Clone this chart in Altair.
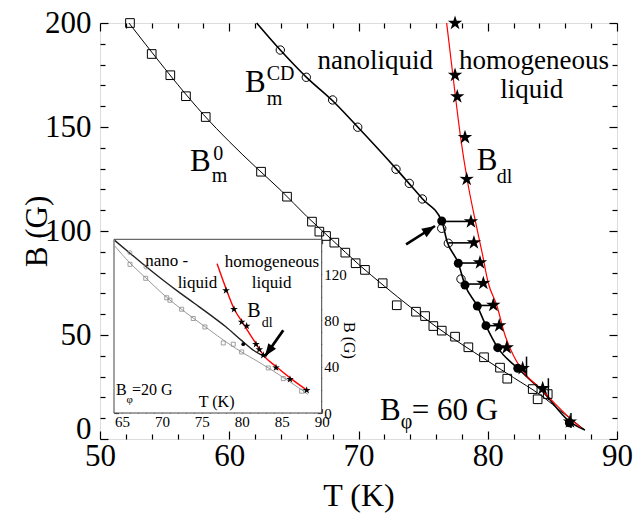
import altair as alt
import pandas as pd

FONT = "Liberation Serif, Times New Roman, Times, serif"
W, H = 517, 416

# ---------------- main panel (B_phi = 60 G) ----------------
T_RANGE = [50, 90]
B_RANGE = [0, 200]
X_MAJOR = [50, 60, 70, 80, 90]
X_MINOR = [52, 54, 56, 58, 62, 64, 66, 68, 72, 74, 76, 78, 82, 84, 86, 88]
Y_MAJOR = [0, 50, 100, 150, 200]
Y_MINOR = [10, 20, 30, 40, 60, 70, 80, 90, 110, 120, 130, 140, 160, 170, 180, 190]

# B_m^0 : open squares + fit line
sq_T = [52.32, 54.0, 55.44, 56.65, 58.18, 62.46, 64.47, 66.4, 66.97, 67.49, 68.13, 68.98, 69.78,
        70.5, 71.87, 72.96, 74.45, 75.15, 75.79, 76.44, 77.47, 78.5, 79.71, 80.95, 81.51, 83.48,
        83.86, 84.64]
sq_B = [200, 185.1, 174.9, 164.8, 154.8, 128.5, 116.5, 104.5, 99.7, 97.6, 94.4, 89.6, 84.5,
        81.3, 74.9, 64.3, 61.2, 59.1, 54.3, 52.1, 49.2, 44.1, 39.3, 34.3, 29.0, 24.0,
        19.1, 21.6]
m0_T = [52.24, 54, 56, 58, 60, 62, 64, 66, 68, 70, 72, 74, 76, 78, 80, 82, 84, 86, 87.52]
m0_B = [200, 186, 170.5, 156, 143, 131, 119.5, 107, 95.5, 84, 73.5, 63.5, 54, 45.5, 37.5, 29.5,
        21.5, 11.7, 4.3]

# B_m^CD : open circles, filled circles, line
oc_T = [63.95, 65.96, 68.0, 69.94, 72.9, 73.93, 74.94, 76.44, 76.95, 77.93]
oc_B = [187.0, 173.9, 163.0, 149.9, 129.7, 122.9, 115.4, 101.3, 94.1, 76.9]
fc_T = [76.44, 77.72, 78.24, 79.19, 79.86, 80.77, 82.32, 86.31]
fc_B = [104.8, 84.5, 74.0, 63.9, 54.5, 43.9, 34.0, 7.8]
cd_T = [62.12, 63.95, 65.96, 68.0, 69.94, 72.9, 74.94, 76.44, 76.85, 77.72, 78.24, 79.19, 79.86,
        80.77, 82.32, 84.3, 86.31, 87.52]
cd_B = [200, 187, 174, 162.6, 150, 130, 115.5, 104.8, 95, 84.5, 74, 63.9, 54.5, 43.9, 34, 22.5,
        8.5, 4.3]

# B_dl : stars + red line
st_T = [77.47, 77.47, 77.64, 78.24, 78.37, 78.70, 78.93, 79.4, 79.66, 80.43, 80.89, 81.47, 82.7,
        84.25, 86.36]
st_B = [200, 175.0, 164.6, 145.0, 124.9, 104.5, 94.4, 84.8, 74.9, 64.4, 54.5, 43.9, 34.0, 24.4, 8.3]
dl_T = [76.82, 77.3, 77.9, 78.4, 79.05, 79.55, 80.04, 80.69, 81.33, 82.0, 83.0, 84.04, 85.2,
        86.36, 87.2]
dl_B = [200, 175, 145, 125, 104.5, 90, 75, 64.4, 50, 40, 30.5, 24.5, 17, 10, 5.5]

# horizontal connectors circle -> star
con_B = [104.6, 94.3, 84.6, 74.5, 64.2, 54.5, 43.9]
con_T1 = [76.44, 76.95, 77.72, 78.24, 79.19, 79.86, 80.77]
con_T2 = [78.70, 78.93, 79.4, 79.66, 80.43, 80.89, 81.47]

# error bars
eb_T = [83.0, 84.69, 86.44]
eb_lo = [30.0, 18.75, 5.3]
eb_hi = [39.6, 29.2, 12.5]

# arrow (tail -> head)
arr_T = [73.68, 75.92]
arr_B = [93.6, 102.4]

# annotations (text, T, B)
lab_txt = ["nanoliquid", "homogeneous", "liquid"]
lab_T = [71.29, 83.58, 83.4]
lab_B = [178.0, 178.0, 163.8]
big_txt = ["B", "B", "B", "B", "= 60 G"]
big_T = [61.22, 56.96, 79.15, 71.66, 74.12]
big_B = [166.7, 129.0, 129.3, 9.1, 9.1]
scr_txt = ["CD", "m", "0", "m", "dl", "\u03c6"]
scr_T = [62.9, 62.9, 58.77, 58.64, 80.69, 73.26]
scr_B = [172.6, 160.6, 134.1, 123.6, 123.1, 5.3]

# ---------------- inset (B_phi = 20 G) ----------------
IN_T_RANGE = [64, 90]
IN_B_RANGE = [0, 150]
IN_X_MAJOR = [65, 70, 75, 80, 85, 90]
IN_X_MINOR = [64, 66, 67, 68, 69, 71, 72, 73, 74, 76, 77, 78, 79, 81, 82, 83, 84, 86, 87, 88, 89]
IN_Y_MAJOR = [0, 40, 80, 120]
IN_Y_MINOR = [10, 20, 30, 50, 60, 70, 90, 100, 110, 130, 140]

i_sq_T = [66.0, 67.97, 70.6, 71.0, 72.47, 73.92, 75.38, 77.68, 78.93, 79.98, 83.31, 85.19, 87.49]
i_sq_B = [128.4, 116.3, 99.5, 97.4, 89.6, 81.6, 74.3, 60.5, 59.4, 52.7, 38.9, 29.7, 18.8]
i_m0_T = [64, 66, 68, 70, 72, 74, 76, 78, 80, 82, 84, 86, 88.3]
i_m0_B = [145, 129.5, 116.5, 103.5, 92, 81.5, 71.5, 61.5, 52.5, 44.5, 36, 27, 16]
i_oc_T = [66.0, 68.0]
i_oc_B = [138.5, 126.0]
i_cd_T = [64.1, 66, 68, 70, 72, 74, 76, 78, 80, 81.5, 82.9]
i_cd_B = [149, 138, 126.5, 115.5, 105, 95, 85, 74.5, 62.5, 54, 48.6]
i_fc_T = [80.18]
i_fc_B = [59.4]
i_dl_T = [76.9, 78.1, 79.0, 80.1, 81.1, 81.9, 82.7, 84.4, 86.2, 88.3]
i_dl_B = [129, 106, 90.5, 78, 67, 58.5, 50, 39.5, 29.5, 19]
i_st_T = [78.02, 79.02, 79.98, 80.61, 81.77, 82.19, 82.69, 84.28, 86.03, 88.12]
i_st_B = [105.7, 89.6, 78.6, 75.2, 59.4, 54.8, 49.9, 39.2, 29.1, 19.6]
i_arr_T = [85.19, 82.9]
i_arr_B = [71.5, 49.0]

i_lab_txt = ["nano -", "liquid", "homogeneous", "liquid"]
i_lab_T = [70.6, 74.45, 83.78, 83.74]
i_lab_B = [127.2, 107.6, 126.3, 107.6]
i_big_txt = ["B"]
i_big_T = [80.68]
i_big_B = [82.5]
i_sub_txt = ["dl"]
i_sub_T = [82.49]
i_sub_B = [74.4]
i_phi_txt = ["B", "=20 G", "T (K)"]
i_phi_T = [64.25, 66.25, 76.85]
i_phi_B = [15.3, 15.3, 5.2]
i_phis_txt = ["\u03c6"]
i_phis_T = [65.55]
i_phis_B = [8.6]

STAR = ("M0,-1L0.223,-0.307L0.951,-0.309L0.361,0.117L0.588,0.809L0,0.38L-0.588,0.809"
        "L-0.361,0.117L-0.951,-0.309L-0.223,-0.307Z")
HEAD = "M0,0L0.9,2.4L-0.9,2.4Z"

XS = alt.Scale(domain=T_RANGE, nice=False, zero=False)
YS = alt.Scale(domain=B_RANGE, nice=False, zero=False)
XI = alt.Scale(domain=IN_T_RANGE, range=[14, 221.7], nice=False, zero=False)
YI = alt.Scale(domain=IN_B_RANGE, range=[390, 216.3], nice=False, zero=False)


def df(**cols):
    return pd.DataFrame(cols)


def xy(xs, ys, xf="T", yf="B", xaxis=None, yaxis=None):
    return dict(x=alt.X(f"{xf}:Q", scale=xs, axis=xaxis),
                y=alt.Y(f"{yf}:Q", scale=ys, axis=yaxis))


def ax(orient, values, size, offset, color="black", labels=False, **kw):
    base = dict(orient=orient, values=values, tickSize=size, offset=offset, domain=False,
                grid=False, labels=labels, ticks=True, tickColor=color, tickWidth=1.2,
                title=None)
    base.update(kw)
    return alt.Axis(**base)


def axis_layer(xs, ys, xaxis=None, yaxis=None):
    return alt.Chart(df(T=sq_T, B=sq_B)).mark_point(opacity=0, size=1).encode(
        **xy(xs, ys, xaxis=xaxis, yaxis=yaxis))


def text_layer(data, xs, ys, size, align="left"):
    return alt.Chart(data).mark_text(font=FONT, fontSize=size, align=align,
                                     baseline="alphabetic", color="black").encode(
        **xy(xs, ys), text="text:N")


# ---- main axes ----
main_axes = [
    axis_layer(XS, YS, xaxis=ax("bottom", X_MAJOR, 8, -8, labels=True, labelFont=FONT,
                                labelFontSize=31, labelColor="black", labelPadding=2,
                                labelFlush=False, labelOverlap=False,
                                title="T (K)", titleFont=FONT, titleFontSize=32,
                                titleFontWeight="normal", titleColor="black",
                                titleX=258.5, titleY=64, titleBaseline="middle",
                                titleAlign="center")),
    axis_layer(XS, YS, xaxis=ax("bottom", X_MINOR, 5, -5)),
    axis_layer(XS, YS, xaxis=ax("top", X_MAJOR, 8, -8)),
    axis_layer(XS, YS, xaxis=ax("top", X_MINOR, 5, -5)),
    axis_layer(XS, YS, yaxis=ax("left", Y_MAJOR, 8, -8, labels=True, labelFont=FONT,
                                labelFontSize=31, labelColor="black", labelPadding=9,
                                labelFlush=False, labelOverlap=False,
                                labelOffset={"condition": {"test": "datum.value == 0",
                                                           "value": -10},
                                             "value": 0},
                                title="B (G)", titleFont=FONT, titleFontSize=31,
                                titleFontWeight="normal", titleColor="black",
                                titleX=-71, titleY=208, titleAngle=270,
                                titleBaseline="middle", titleAlign="center")),
    axis_layer(XS, YS, yaxis=ax("left", Y_MINOR, 5, -5)),
    axis_layer(XS, YS, yaxis=ax("right", Y_MAJOR, 8, -8)),
    axis_layer(XS, YS, yaxis=ax("right", Y_MINOR, 5, -5)),
]

main_marks = [
    alt.Chart(df(T=m0_T, B=m0_B)).mark_line(interpolate="monotone", color="black",
                                            strokeWidth=1).encode(**xy(XS, YS)),
    alt.Chart(df(T=cd_T, B=cd_B)).mark_line(interpolate="monotone", color="black",
                                            strokeWidth=1.6).encode(**xy(XS, YS)),
    alt.Chart(df(T=dl_T, B=dl_B)).mark_line(interpolate="monotone", color="#ff0000",
                                            strokeWidth=1.2).encode(**xy(XS, YS)),
    alt.Chart(df(T1=con_T1, T2=con_T2, B=con_B)).mark_rule(color="black", strokeWidth=1.6).encode(
        x=alt.X("T1:Q", scale=XS, axis=None), x2="T2:Q", y=alt.Y("B:Q", scale=YS, axis=None)),
    alt.Chart(df(T=eb_T, lo=eb_lo, hi=eb_hi)).mark_rule(color="black", strokeWidth=1.5).encode(
        x=alt.X("T:Q", scale=XS, axis=None), y=alt.Y("lo:Q", scale=YS, axis=None), y2="hi:Q"),
    alt.Chart(df(T=sq_T, B=sq_B)).mark_point(shape="square", size=75, filled=False, color="black",
                                             strokeWidth=1, opacity=1).encode(**xy(XS, YS)),
    alt.Chart(df(T=oc_T, B=oc_B)).mark_point(shape="circle", size=70, filled=False, color="black",
                                             strokeWidth=1, opacity=1).encode(**xy(XS, YS)),
    alt.Chart(df(T=fc_T, B=fc_B)).mark_point(shape="circle", size=80, filled=True, color="black",
                                             opacity=1).encode(**xy(XS, YS)),
    alt.Chart(df(T=st_T, B=st_B)).mark_point(shape=STAR, size=230, filled=True, color="black",
                                             opacity=1).encode(**xy(XS, YS)),
    alt.Chart(df(T1=[arr_T[0]], B1=[arr_B[0]], T2=[arr_T[1]], B2=[arr_B[1]])).mark_rule(
        color="black", strokeWidth=2.6).encode(
        x=alt.X("T1:Q", scale=XS, axis=None), y=alt.Y("B1:Q", scale=YS, axis=None),
        x2="T2:Q", y2="B2:Q"),
    alt.Chart(df(T=[arr_T[1]], B=[arr_B[1]])).mark_point(shape=HEAD, size=120, filled=True,
                                                         color="black", opacity=1,
                                                         angle=57.7).encode(**xy(XS, YS)),
    text_layer(df(text=lab_txt, T=lab_T, B=lab_B), XS, YS, 27, "center"),
    text_layer(df(text=big_txt, T=big_T, B=big_B), XS, YS, 31),
    text_layer(df(text=scr_txt, T=scr_T, B=scr_B), XS, YS, 20),
]

main = alt.layer(*main_axes, *main_marks).resolve_axis(x="independent", y="independent")

# ---- inset ----
IC = "#444444"
tin_maj, tin_min = 4.5, 2.5
inset_axes = [
    axis_layer(XI, YI, xaxis=ax("bottom", IN_X_MAJOR, tin_maj, -(26 + tin_maj), color=IC,
                                labels=True, labelFont=FONT, labelFontSize=15,
                                labelColor="black", labelPadding=1, labelFlush=False,
                                labelOverlap=False)),
    axis_layer(XI, YI, xaxis=ax("bottom", IN_X_MINOR, tin_min, -(26 + tin_min), color=IC)),
    axis_layer(XI, YI, xaxis=ax("top", IN_X_MAJOR, tin_maj, -(216.3 + tin_maj), color=IC)),
    axis_layer(XI, YI, xaxis=ax("top", IN_X_MINOR, tin_min, -(216.3 + tin_min), color=IC)),
    axis_layer(XI, YI, yaxis=ax("left", IN_Y_MAJOR, tin_maj, -(14 + tin_maj), color=IC)),
    axis_layer(XI, YI, yaxis=ax("left", IN_Y_MINOR, tin_min, -(14 + tin_min), color=IC)),
    axis_layer(XI, YI, yaxis=ax("right", IN_Y_MAJOR, tin_maj, -(295.3 + tin_maj), color=IC,
                                labels=True, labelFont=FONT, labelFontSize=15,
                                labelColor="black", labelPadding=2, labelFlush=False,
                                labelOverlap=False, labelAlign="left",
                                title="B (G)", titleFont=FONT, titleFontSize=16,
                                titleFontWeight="normal", titleColor="black",
                                titleX=31, titleY=317, titleAngle=90,
                                titleBaseline="middle", titleAlign="center")),
    axis_layer(XI, YI, yaxis=ax("right", IN_Y_MINOR, tin_min, -(295.3 + tin_min), color=IC)),
]

inset_marks = [
    alt.Chart(df(T1=[IN_T_RANGE[0]], T2=[IN_T_RANGE[1]], B1=[IN_B_RANGE[0]], B2=[IN_B_RANGE[1]]))
    .mark_rect(fill="white", stroke=IC, strokeWidth=1).encode(
        x=alt.X("T1:Q", scale=XI, axis=None), x2="T2:Q",
        y=alt.Y("B1:Q", scale=YI, axis=None), y2="B2:Q"),
    alt.Chart(df(T=i_m0_T, B=i_m0_B)).mark_line(interpolate="monotone", color="#9a9a9a",
                                                strokeWidth=1).encode(**xy(XI, YI)),
    alt.Chart(df(T=i_cd_T, B=i_cd_B)).mark_line(interpolate="monotone", color="#222222",
                                                strokeWidth=1.4).encode(**xy(XI, YI)),
    alt.Chart(df(T=i_dl_T, B=i_dl_B)).mark_line(interpolate="monotone", color="#ff0000",
                                                strokeWidth=1.4).encode(**xy(XI, YI)),
    alt.Chart(df(T=i_sq_T, B=i_sq_B)).mark_point(shape="square", size=16, filled=False,
                                                 color="#8a8a8a", strokeWidth=0.8,
                                                 opacity=1).encode(**xy(XI, YI)),
    alt.Chart(df(T=i_oc_T, B=i_oc_B)).mark_point(shape="circle", size=16, filled=False,
                                                 color="#8a8a8a", strokeWidth=0.8,
                                                 opacity=1).encode(**xy(XI, YI)),
    alt.Chart(df(T=i_fc_T, B=i_fc_B)).mark_point(shape="circle", size=14, filled=True,
                                                 color="black", opacity=1).encode(**xy(XI, YI)),
    alt.Chart(df(T=i_st_T, B=i_st_B)).mark_point(shape=STAR, size=64, filled=True,
                                                 color="black", opacity=1).encode(**xy(XI, YI)),
    alt.Chart(df(T1=[i_arr_T[0]], B1=[i_arr_B[0]], T2=[i_arr_T[1]], B2=[i_arr_B[1]])).mark_rule(
        color="black", strokeWidth=2.8).encode(
        x=alt.X("T1:Q", scale=XI, axis=None), y=alt.Y("B1:Q", scale=YI, axis=None),
        x2="T2:Q", y2="B2:Q"),
    alt.Chart(df(T=[i_arr_T[1]], B=[i_arr_B[1]])).mark_point(shape=HEAD, size=110, filled=True,
                                                             color="black", opacity=1,
                                                             angle=215).encode(**xy(XI, YI)),
    text_layer(df(text=i_lab_txt, T=i_lab_T, B=i_lab_B), XI, YI, 17, "center"),
    text_layer(df(text=i_big_txt, T=i_big_T, B=i_big_B), XI, YI, 20),
    text_layer(df(text=i_sub_txt, T=i_sub_T, B=i_sub_B), XI, YI, 14),
    text_layer(df(text=i_phi_txt[:2], T=i_phi_T[:2], B=i_phi_B[:2]), XI, YI, 16),
    text_layer(df(text=i_phi_txt[2:], T=i_phi_T[2:], B=i_phi_B[2:]), XI, YI, 16, "center"),
    text_layer(df(text=i_phis_txt, T=i_phis_T, B=i_phis_B), XI, YI, 11),
]

inset = alt.layer(*inset_axes, *inset_marks).resolve_axis(x="independent", y="independent")

chart = (
    alt.layer(main, inset)
    .resolve_scale(x="independent", y="independent")
    .properties(width=W, height=H,
                padding={"left": 100, "top": 23, "right": 16, "bottom": 75},
                autosize=alt.AutoSizeParams(type="none"))
    .configure_view(stroke="black", strokeWidth=1.6)
    .configure(background="white")
)

chart.save("out.html", embed_options={"renderer": "svg", "actions": False})
